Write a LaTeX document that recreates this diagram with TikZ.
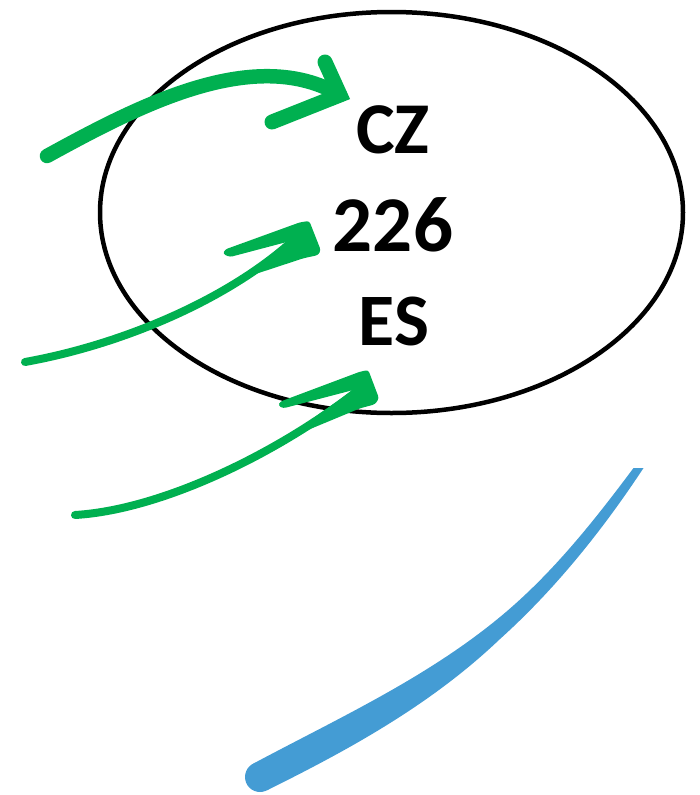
\documentclass[tikz,border=0pt]{standalone}
\usepackage{fontspec}
\setmainfont{Carlito}
\definecolor{arrowgreen}{RGB}{0,176,80}
\definecolor{swooshblue}{RGB}{68,156,212}
\begin{document}
\begin{tikzpicture}[x=1pt,y=-1pt,
  lbl/.style={inner sep=0pt, text=black},
  greenline/.style={draw=arrowgreen, line cap=round, line join=round},
  greenhead/.style={fill=arrowgreen, rounded corners=2.5pt},
]
\useasboundingbox (0,0) rectangle (699,795);
% ellipse
\coordinate (ec) at (391.5,212.5);
\draw[line width=4.5pt] (ec) ellipse [x radius=291.5, y radius=200.5];
% texts
\node[lbl, font=\bfseries\fontsize{73}{73}\selectfont] (cz) at (393,130) {CZ};
\node[lbl, font=\bfseries\fontsize{79}{79}\selectfont] (num) at (393,225) {226};
\node[lbl, font=\bfseries\fontsize{74}{74}\selectfont] (es) at (394,321.5) {ES};
% arrow 1
\coordinate (a1s) at (47,156);
\coordinate (a1t) at (340,95);
\coordinate (a1u) at (325,62);
\coordinate (a1l) at (272,122);
\draw[greenline, line width=14.5pt] (a1s) .. controls (140,105) and (255,45) .. (a1t);
\draw[greenline, line width=15pt, line join=miter] (a1u) -- (a1t) -- (a1l);
% arrow 2
\coordinate (a2s) at (25,362);
\coordinate (a2t) at (298,236);
\draw[greenline, line width=8pt] (a2s) .. controls (120,345) and (230,300) .. (a2t);
\fill[greenhead] (225,249.5) -- (300,222.3) -- (309.3,221) -- (320.7,250) -- (318.3,255) -- (303.3,258.3) -- (254.4,274.4) -- (250.8,269.6) -- (294.3,240) -- (230,257) -- (223,254) -- cycle;
% arrow 3
\coordinate (a3s) at (75,515);
\coordinate (a3t) at (356,392);
\draw[greenline, line width=8pt] (a3s) .. controls (160,510) and (275,455) .. (a3t);
\fill[greenhead] (280,401.7) -- (360,371.7) -- (368.3,370) -- (379,398.3) -- (375,404.3) -- (360,408.3) -- (305.7,430.9) -- (302.1,426.1) -- (353.3,390) -- (283.3,408.3) -- (278.3,405.7) -- cycle;
% blue swoosh
\coordinate (bend) at (260,777);
\fill[swooshblue] (633.5,468) .. controls (593.5,521.6) and (551.7,574.3) .. (500,617)
  .. controls (426,678.2) and (337.8,718.5) .. (253.3,763.6)
  -- (266.8,790.4) .. controls (348.3,750) and (430.9,705) .. (500,639)
  .. controls (555,589.5) and (602.8,529.8) .. (643.5,468) -- cycle;
\fill[swooshblue] (bend) circle [radius=15];
\end{tikzpicture}
\end{document}
